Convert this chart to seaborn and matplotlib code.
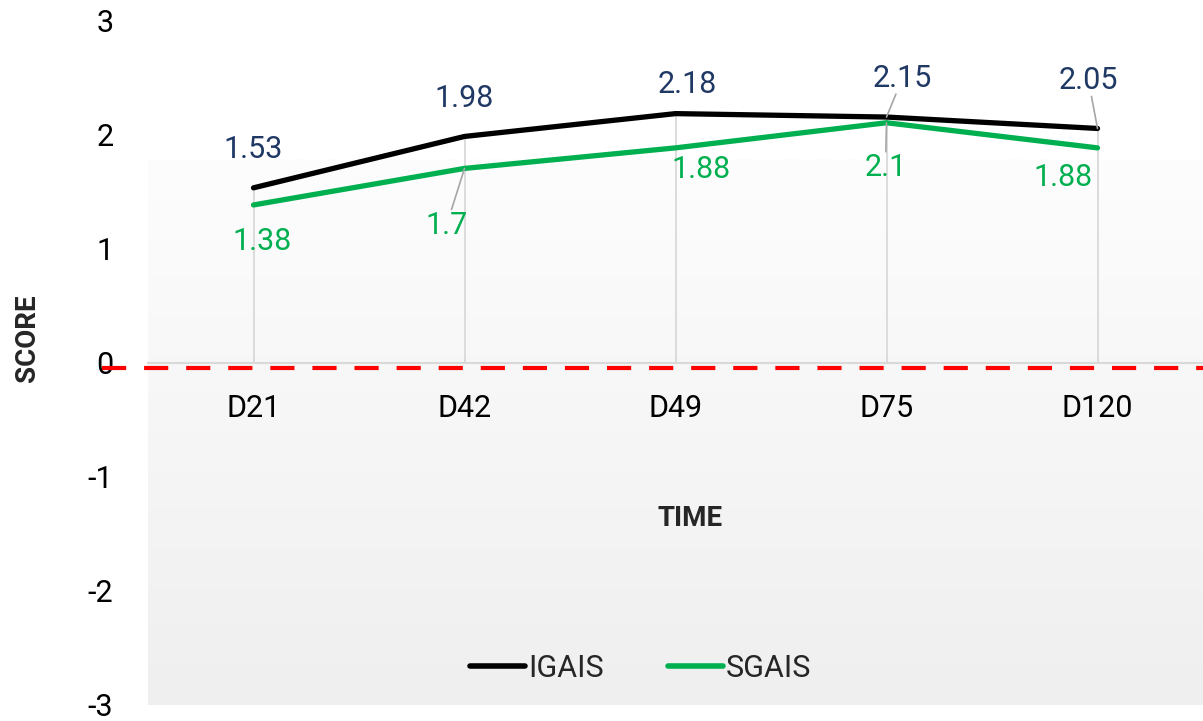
import numpy as np
import pandas as pd
import matplotlib
matplotlib.use('Agg')
import matplotlib.pyplot as plt
import matplotlib.transforms as mtransforms
from matplotlib.colors import LinearSegmentedColormap
from matplotlib.lines import Line2D
import seaborn as sns

# data
times = ['D21', 'D42', 'D49', 'D75', 'D120']
igais = [1.53, 1.98, 2.18, 2.15, 2.05]
sgais = [1.38, 1.70, 1.88, 2.10, 1.88]
series_names = ['IGAIS', 'SGAIS']
y_ticks = [-3, -2, -1, 0, 1, 2, 3]

# label offsets in pixels (dx, dy; screen y up) and which ones get a leader line
ig_offsets = [(0, 38), (0, 38), (12, 29), (16, 39), (-9, 48)]
ig_leader = [False, False, False, True, True]
sg_offsets = [(9, -37), (-18, -57), (25, -22), (-1, -45), (-34, -30)]
sg_leader = [False, True, False, True, False]

colors = {'IGAIS': '#000000', 'SGAIS': '#00b050'}
label_colors = {'IGAIS': '#1f3864', 'SGAIS': '#00b050'}

df = pd.DataFrame({
    'time': times * 2,
    'score': igais + sgais,
    'scale': [series_names[0]] * len(times) + [series_names[1]] * len(times),
})

sns.set_style('white')
plt.rcParams['font.family'] = ['Roboto', 'DejaVu Sans']

fig = plt.figure(figsize=(12.03, 7.21), dpi=100)
ax = fig.add_axes([148 / 1203, 16 / 721, 1055 / 1203, 685 / 721])

# gradient background of the plot area
cmap = LinearSegmentedColormap.from_list('bg', ['#efefef', '#fdfdfd'])
grad = np.linspace(0, 1, 256).reshape(-1, 1)
ax.imshow(grad, cmap=cmap, origin='lower', aspect='auto',
          extent=[-0.5, len(times) - 0.5, -3, 1.78], zorder=0)

# drop lines
xpos = np.arange(len(times))
ax.vlines(xpos, 0, np.maximum(igais, sgais), color='#d9d9d9', lw=1.3, zorder=1)

sns.lineplot(data=df, x='time', y='score', hue='scale', palette=colors,
             sort=False, linewidth=3.8, legend=False, ax=ax, zorder=3)
for ln in ax.lines:
    ln.set_solid_capstyle('round')
    ln.set_solid_joinstyle('round')

# red dashed reference line, slightly below zero
red_tr = mtransforms.offset_copy(ax.get_yaxis_transform(), fig=fig, y=-4.3, units='points')
ax.plot([-46 / 1055, 1], [0, 0], transform=red_tr, color='#ff0000', lw=3,
        linestyle=(0, (5.8, 4.3)), clip_on=False, zorder=4)

# data labels
def add_labels(vals, offsets, leaders, color):
    for i, (v, off, lead) in enumerate(zip(vals, offsets, leaders)):
        kw = {}
        if lead:
            kw['arrowprops'] = dict(arrowstyle='-', color='#a6a6a6', lw=1.2,
                                    shrinkA=0, shrinkB=0)
            kw['bbox'] = dict(boxstyle='square,pad=0.05', fc='none', ec='none')
        ax.annotate(f'{v:g}', xy=(i, v), xytext=(off[0] * 0.72, off[1] * 0.72),
                    textcoords='offset points', ha='center', va='center',
                    fontsize=22, color=color, zorder=5, **kw)

add_labels(igais, ig_offsets, ig_leader, label_colors['IGAIS'])
add_labels(sgais, sg_offsets, sg_leader, label_colors['SGAIS'])

ax.set_xlim(-0.5, len(times) - 0.5)
ax.set_ylim(-3, 3)
ax.set_yticks(y_ticks)
ax.set_yticklabels([str(t) for t in y_ticks])
ax.tick_params(axis='y', length=0, pad=25, labelsize=22, labelcolor='#000000')
ax.tick_params(axis='x', length=0, pad=23, labelsize=22, labelcolor='#000000')
for side in ['top', 'right', 'left']:
    ax.spines[side].set_visible(False)
ax.spines['bottom'].set_position(('data', 0))
ax.spines['bottom'].set_color('#d9d9d9')
ax.spines['bottom'].set_linewidth(1.5)
ax.spines['bottom'].set_zorder(2)
ax.set_facecolor('none')

ax.set_xlabel('TIME', fontsize=20, fontweight='bold')
ax.xaxis.set_label_coords(0.514, 0.292)
ax.set_ylabel('SCORE', fontsize=20, fontweight='bold')
ax.yaxis.set_label_coords(-0.101, 0.535)

handles = [Line2D([0], [0], color=colors[n], lw=4, solid_capstyle='round') for n in series_names]
ax.legend(handles, series_names, loc='center', bbox_to_anchor=(0.467, 0.054),
          ncol=2, frameon=False, fontsize=22, handlelength=1.8,
          handletextpad=0.1, columnspacing=2.1)

fig.savefig('out.png', dpi=100)
